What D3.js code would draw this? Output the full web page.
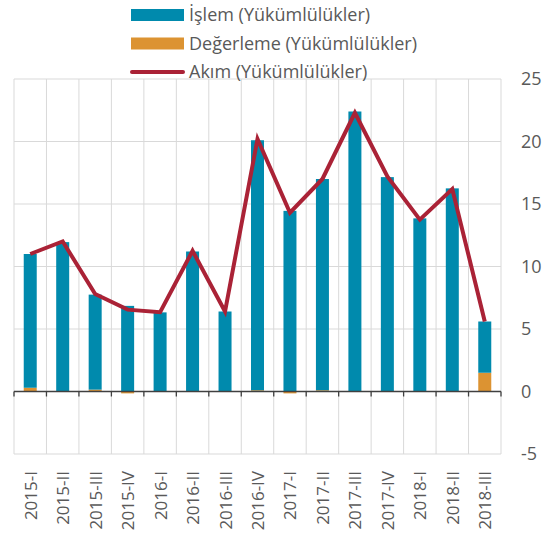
<!DOCTYPE html>
<html>
<head>
<meta charset="utf-8">
<script src="https://cdn.jsdelivr.net/npm/d3@7"></script>
<style>
  body { margin: 0; background: #fff; }
  text { font-family: "Open Sans", sans-serif; fill: #595959; }
</style>
</head>
<body>
<svg width="550" height="541"></svg>
<script>
const quarters = ["2015-I", "2015-II", "2015-III", "2015-IV", "2016-I", "2016-II", "2016-III",
  "2016-IV", "2017-I", "2017-II", "2017-III", "2017-IV", "2018-I", "2018-II", "2018-III"];
const islem =     [10.7, 11.95, 7.6, 6.85, 6.33, 11.2, 6.4, 20.0, 14.45, 16.9, 22.4, 17.15, 13.85, 16.25, 4.1];
const degerleme = [0.3, 0.0, 0.15, -0.15, 0.0, 0.0, 0.0, 0.1, -0.15, 0.1, 0.0, 0.0, 0.0, 0.0, 1.5];
const akim =      [11.0, 12.0, 7.8, 6.55, 6.35, 11.25, 6.4, 20.2, 14.3, 17.0, 22.3, 17.2, 13.75, 16.2, 5.6];
const yTicks = [-5, 0, 5, 10, 15, 20, 25];

const colors = { islem: "#008aad", degerleme: "#dc9332", akim: "#aa2236" };

const svg = d3.select("svg");
const m = { left: 14, right: 501, top: 79, bottom: 454 };

const x = d3.scaleBand().domain(quarters).range([m.left, m.right]).paddingInner(0).paddingOuter(0);
const y = d3.scaleLinear().domain([-5, 25]).range([m.bottom, m.top]);

// grid
const grid = svg.append("g");
grid.selectAll("line.h").data(yTicks).enter().append("line")
  .attr("x1", m.left).attr("x2", m.right)
  .attr("y1", d => y(d)).attr("y2", d => y(d))
  .attr("stroke", "#d9d9d9").attr("stroke-width", 1);
const bounds = quarters.map(q => x(q)).concat([m.right]);
grid.selectAll("line.v").data(bounds).enter().append("line")
  .attr("x1", d => d).attr("x2", d => d)
  .attr("y1", m.top).attr("y2", m.bottom)
  .attr("stroke", "#d9d9d9").attr("stroke-width", 1);

// stacked bars (diverging)
const rows = quarters.map((q, i) => ({ q, degerleme: degerleme[i], islem: islem[i] }));
const stack = d3.stack().keys(["degerleme", "islem"]).offset(d3.stackOffsetDiverging);
const series = stack(rows);
const barW = 13;
svg.append("g").selectAll("g").data(series).enter().append("g")
  .attr("fill", d => colors[d.key])
  .selectAll("rect").data(d => d).enter().append("rect")
  .attr("x", d => x(d.data.q) + x.bandwidth() / 2 - barW / 2)
  .attr("width", barW)
  .attr("y", d => y(Math.max(d[0], d[1])))
  .attr("height", d => Math.abs(y(d[0]) - y(d[1])));

// zero axis with ticks
svg.append("line")
  .attr("x1", m.left).attr("x2", m.right)
  .attr("y1", y(0)).attr("y2", y(0))
  .attr("stroke", "#404040").attr("stroke-width", 1.3);
svg.append("g").selectAll("line").data(bounds).enter().append("line")
  .attr("x1", d => d).attr("x2", d => d)
  .attr("y1", y(0)).attr("y2", y(0) + 5)
  .attr("stroke", "#404040").attr("stroke-width", 1.3);

// line
const line = d3.line()
  .x((d, i) => x(quarters[i]) + x.bandwidth() / 2)
  .y(d => y(d));
svg.append("path").datum(akim)
  .attr("d", line)
  .attr("fill", "none")
  .attr("stroke", colors.akim)
  .attr("stroke-width", 4)
  .attr("stroke-linejoin", "miter");

// right axis labels
svg.append("g").selectAll("text").data(yTicks).enter().append("text")
  .attr("x", 521)
  .attr("y", d => y(d))
  .attr("dy", "0.35em")
  .attr("font-size", 18)
  .text(d => d);

// x labels
svg.append("g").selectAll("text").data(quarters).enter().append("text")
  .attr("transform", d => `translate(${x(d) + x.bandwidth() / 2 + 6.5}, 471) rotate(-90)`)
  .attr("text-anchor", "end")
  .attr("font-size", 17)
  .text(d => d);

// legend
const legend = [
  { label: "İşlem (Yükümlülükler)", key: "islem", type: "rect" },
  { label: "Değerleme (Yükümlülükler)", key: "degerleme", type: "rect" },
  { label: "Akım (Yükümlülükler)", key: "akim", type: "line" }
];
const lg = svg.append("g").selectAll("g").data(legend).enter().append("g")
  .attr("transform", (d, i) => `translate(131, ${15 + i * 28.5})`);
lg.filter(d => d.type === "rect").append("rect")
  .attr("x", 0).attr("y", -6).attr("width", 53).attr("height", 12)
  .attr("fill", d => colors[d.key]);
lg.filter(d => d.type === "line").append("line")
  .attr("x1", 1).attr("x2", 52).attr("y1", 0).attr("y2", 0)
  .attr("stroke", d => colors[d.key]).attr("stroke-width", 4).attr("stroke-linecap", "round");
lg.append("text")
  .attr("x", 58).attr("dy", "0.35em")
  .attr("font-size", 18)
  .text(d => d.label);
</script>
</body>
</html>
